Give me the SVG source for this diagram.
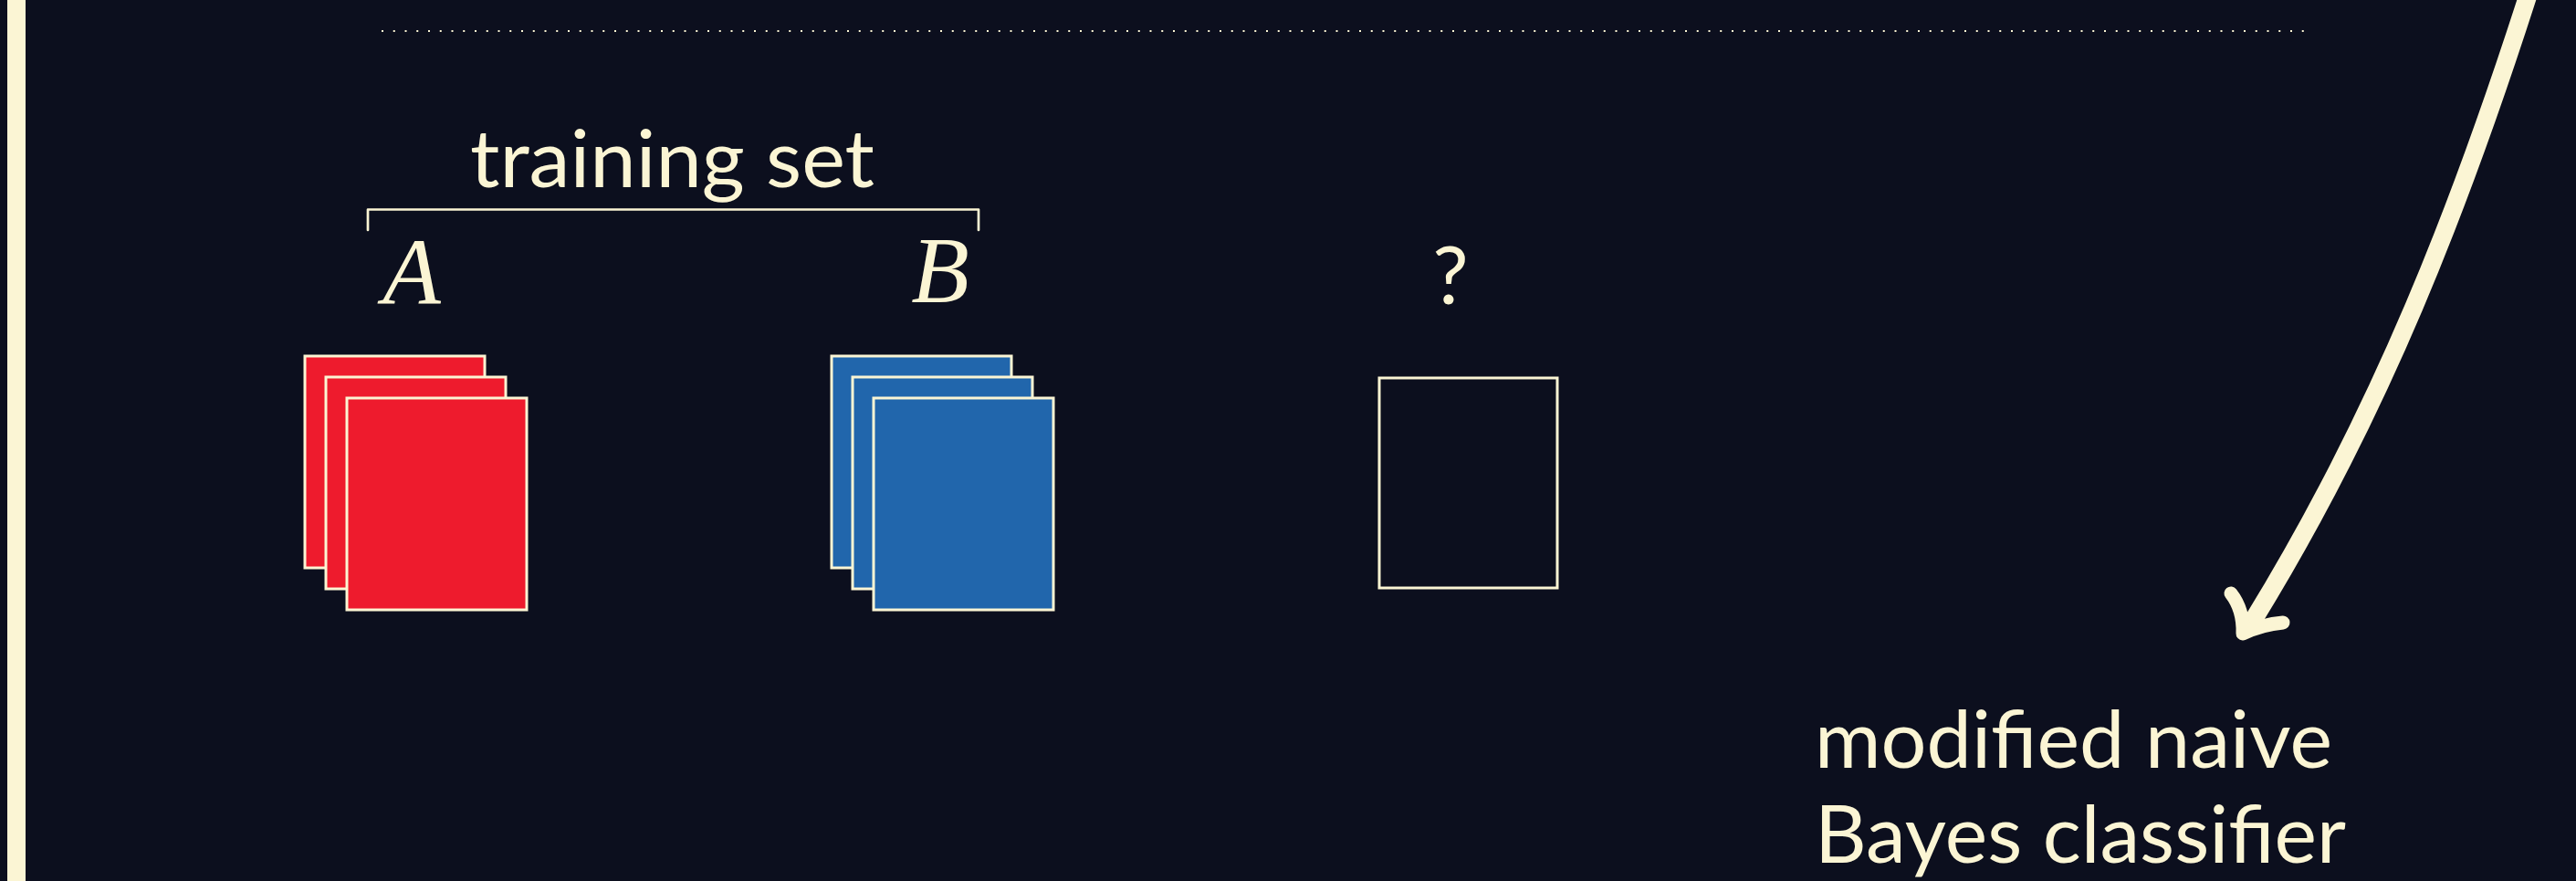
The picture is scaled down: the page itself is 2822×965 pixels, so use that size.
<svg xmlns="http://www.w3.org/2000/svg" width="2822" height="965" viewBox="0 0 2822 965">
  <style>
    .bg { fill: #0C0F1E; }
    .cream { fill: #FBF5D4; }
    .lbl { font-family: Lato, "Open Sans", "Liberation Sans", sans-serif; font-size: 88px; fill: #FBF5D4; }
    .math { font-family: "Liberation Serif", "DejaVu Serif", serif; font-style: italic; font-size: 104px; fill: #FBF5D4; text-anchor: middle; }
    .card { stroke: #FBF5D4; stroke-width: 3; }
    .red { fill: #EE1B2D; }
    .blue { fill: #2166AC; }
    .empty { fill: none; }
    .ink { fill: none; stroke: #FBF5D4; stroke-linecap: round; stroke-linejoin: round; }
  </style>
  <rect class="bg" x="0" y="0" width="2822" height="965"/>
  <rect class="cream" x="8" y="0" width="20" height="965"/>
  <line x1="418" y1="34" x2="2524" y2="34" stroke="#FBF5D4" stroke-width="2" stroke-dasharray="2 10.75"/>

  <g id="training-set-label">
    <path class="ink" d="M403 252 V229.5 H1072 V252" stroke-width="2.7" stroke-linecap="butt" stroke-linejoin="miter"/>
    <text class="lbl" x="515" y="205" textLength="443" lengthAdjust="spacingAndGlyphs">training set</text>
  </g>

  <g id="class-A">
    <text class="math" x="451" y="333">A</text>
    <rect class="card red" x="334" y="390" width="197" height="232"/>
    <rect class="card red" x="357" y="413" width="197" height="232"/>
    <rect class="card red" x="380" y="436" width="197" height="232"/>
  </g>

  <g id="class-B">
    <text class="math" x="1030" y="331">B</text>
    <rect class="card blue" x="911" y="390" width="197" height="232"/>
    <rect class="card blue" x="934" y="413" width="197" height="232"/>
    <rect class="card blue" x="957" y="436" width="197" height="232"/>
  </g>

  <g id="unknown">
    <text class="lbl" x="1589" y="333" text-anchor="middle" font-size="100">?</text>
    <rect class="card empty" x="1511" y="414" width="195" height="230"/>
  </g>

  <g id="classifier">
    <text class="lbl" x="1988" y="841" textLength="567" lengthAdjust="spacingAndGlyphs">modified naive</text>
    <text class="lbl" x="1988" y="945" textLength="582" lengthAdjust="spacingAndGlyphs">Bayes classifier</text>
  </g>

  <g id="connectors">
    <path class="ink" d="M2771 -10 C2697 221 2609 451 2468 680" stroke-width="20" stroke-linecap="butt"/>
    <path class="ink" d="M2444 650 Q2458 668 2457 694 Q2478 684 2501 682" stroke-width="15"/>
  </g>
</svg>
